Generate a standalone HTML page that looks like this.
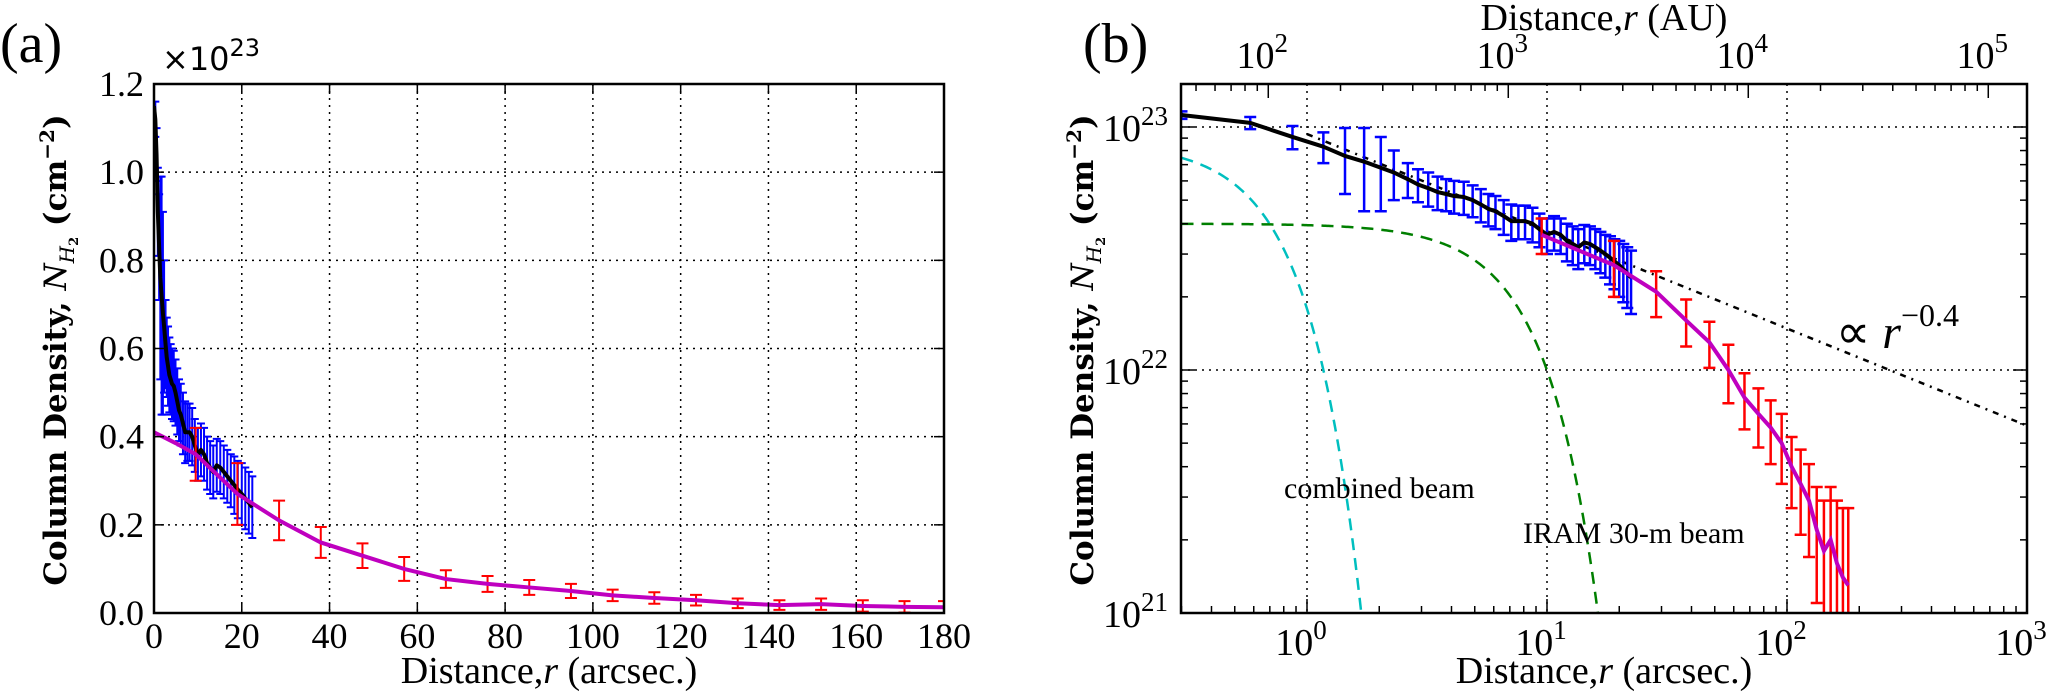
<!DOCTYPE html>
<html><head><meta charset="utf-8">
<style>
html,body{margin:0;padding:0;background:#fff;width:2050px;height:700px;overflow:hidden;position:relative;}
svg{display:block;}
text{font-family:"Liberation Serif","DejaVu Serif",serif;fill:#000;}
</style></head>
<body>
<svg id="fig" width="2050" height="700" viewBox="0 0 2050 700" xmlns="http://www.w3.org/2000/svg" style="position:absolute;left:0;top:0;overflow:hidden">
<defs>
<clipPath id="clipA"><rect x="154" y="84" width="790" height="529"/></clipPath>
<clipPath id="clipB"><rect x="1181" y="84" width="846" height="529"/></clipPath>
</defs>
<g id="panelA"></g>
<g id="panelB"></g>
</svg>
<script>
const obsR = [0.3,0.58,0.87,1.17,1.44,1.73,2.03,2.3,2.63,2.9,3.2,3.5,3.8,4.1,4.5,4.9,5.3,5.7,6.1,6.6,7.1,7.6,8.1,8.7,9.3,10,10.7,11.4,12.1,12.8,13.5,14.3,15.1,15.9,16.7,17.5,18.3,19.1,20,20.8,21.6,22.4];
const obsN = [1.12,1.04,0.91,0.83,0.76,0.72,0.68,0.65,0.61,0.58,0.56,0.54,0.53,0.52,0.515,0.50,0.48,0.46,0.45,0.43,0.41,0.41,0.41,0.40,0.38,0.36,0.37,0.36,0.34,0.33,0.32,0.335,0.33,0.32,0.31,0.30,0.29,0.28,0.27,0.26,0.25,0.24];
const obsErr = [0.04,0.06,0.10,0.12,0.23,0.27,0.23,0.15,0.10,0.09,0.09,0.085,0.08,0.08,0.08,0.075,0.075,0.07,0.07,0.07,0.07,0.065,0.065,0.065,0.06,0.06,0.06,0.06,0.06,0.06,0.06,0.06,0.06,0.06,0.06,0.06,0.065,0.065,0.07,0.07,0.07,0.07];
const modR = [0,5,9.5,19,28.5,38,47.5,57,66.5,76,85.5,95,104.5,114,123.5,133,142.5,152,161.5,171,180];
const modN = [0.41,0.385,0.36,0.27,0.21,0.16,0.13,0.10,0.077,0.066,0.058,0.05,0.04,0.034,0.029,0.022,0.018,0.020,0.016,0.014,0.013];
const modErr = [0,0,0.06,0.07,0.045,0.035,0.028,0.027,0.02,0.018,0.017,0.016,0.013,0.013,0.012,0.011,0.011,0.013,0.013,0.013,0.014];
const beamAmp = [0.86,0.40];
const beamSigma = [0.564,6.0];
const powerNorm = [0.059];
const powerIdx = [-0.4];
const linXTicks = [0,20,40,60,80,100,120,140,160,180];
const linYTicks = [0,0.2,0.4,0.6,0.8,1.0,1.2];
const logXExp = [0,1,2,3];
const logYExp = [21,22,23];
const auExp = [2,3,4,5];
const auPerArcsec = 145;

const NS="http://www.w3.org/2000/svg";
function mk(parent,tag,attrs,txt){const e=document.createElementNS(NS,tag);for(const k in attrs)e.setAttribute(k,attrs[k]);if(txt!==undefined)e.textContent=txt;parent.appendChild(e);return e;}

const A={x0:154,x1:944,y0:84,y1:613};
const xL=r=>A.x0+r/180*(A.x1-A.x0);
const yL=n=>A.y1-n/1.2*(A.y1-A.y0);
const B={x0:1181,x1:2027,y0:84,y1:613};
const xR=r=>1307+240*Math.log10(r);
const yR=n=>127-243*Math.log10(n);

const pa=document.getElementById('panelA');
const gA=mk(pa,'g',{});


linXTicks.forEach(t=>{if(t>0&&t<180)mk(gA,'line',{x1:xL(t),x2:xL(t),y1:A.y0,y2:A.y1,stroke:'#000','stroke-width':1.5,'stroke-dasharray':'2,5'});});
linYTicks.forEach(t=>{if(t>0&&t<1.2)mk(gA,'line',{x1:A.x0,x2:A.x1,y1:yL(t),y2:yL(t),stroke:'#000','stroke-width':1.5,'stroke-dasharray':'2,5'});});
const dA=mk(pa,'g',{'clip-path':'url(#clipA)'});
obsR.forEach((r,i)=>{
  const b=mk(dA,'path',{d:`M${xL(r)},${yL(obsN[i]+obsErr[i])}V${yL(obsN[i]-obsErr[i])}M${xL(r)-4},${yL(obsN[i]+obsErr[i])}h8M${xL(r)-4},${yL(obsN[i]-obsErr[i])}h8`,stroke:'#0000ff','stroke-width':2,fill:'none'});
  
  
});
let pth='';obsR.forEach((r,i)=>{pth+=(i?'L':'M')+xL(r)+','+yL(obsN[i]);});
const ol=mk(dA,'path',{d:'M'+xL(0)+','+yL(1.15)+'L'+pth.slice(1),stroke:'#000','stroke-width':4,fill:'none','stroke-linejoin':'round'});


modR.forEach((r,i)=>{if(!modErr[i])return;
  const b=mk(dA,'path',{d:`M${xL(r)},${yL(modN[i]+modErr[i])}V${yL(Math.max(0,modN[i]-modErr[i]))}M${xL(r)-6},${yL(modN[i]+modErr[i])}h12M${xL(r)-6},${yL(Math.max(0,modN[i]-modErr[i]))}h12`,stroke:'#ff0000','stroke-width':2,fill:'none'});
  
  
});
pth='';modR.forEach((r,i)=>{pth+=(i?'L':'M')+xL(r)+','+yL(modN[i]);});
const ml=mk(dA,'path',{d:pth,stroke:'#bf00bf','stroke-width':4,fill:'none'});


const fa=mk(pa,'rect',{x:A.x0,y:A.y0,width:A.x1-A.x0,height:A.y1-A.y0,fill:'none',stroke:'#000','stroke-width':2.5});


linXTicks.forEach(t=>{
  mk(pa,'line',{x1:xL(t),x2:xL(t),y1:A.y1,y2:A.y1-10,stroke:'#000','stroke-width':1.5});
  mk(pa,'line',{x1:xL(t),x2:xL(t),y1:A.y0,y2:A.y0+10,stroke:'#000','stroke-width':1.5});
  const l=mk(pa,'text',{x:xL(t),y:648,'font-size':36,'text-anchor':'middle'},String(t));
  
  
});
linYTicks.forEach(t=>{
  mk(pa,'line',{x1:A.x0,x2:A.x0+10,y1:yL(t),y2:yL(t),stroke:'#000','stroke-width':1.5});
  mk(pa,'line',{x1:A.x1,x2:A.x1-10,y1:yL(t),y2:yL(t),stroke:'#000','stroke-width':1.5});
  const l=mk(pa,'text',{x:144,y:yL(t)+12,'font-size':36,'text-anchor':'end'},t.toFixed(1));
  
  
});
const pb=document.getElementById('panelB');
const gB=mk(pb,'g',{});


logXExp.forEach(e=>{const x=xR(Math.pow(10,e));if(x<B.x1-1)mk(gB,'line',{x1:x,x2:x,y1:B.y0,y2:B.y1,stroke:'#000','stroke-width':1.5,'stroke-dasharray':'2,5'});});
logYExp.forEach(e=>{const y=yR(Math.pow(10,e-23));if(y<B.y1-1)mk(gB,'line',{x1:B.x0,x2:B.x1,y1:y,y2:y,stroke:'#000','stroke-width':1.5,'stroke-dasharray':'2,5'});});
const dB=mk(pb,'g',{'clip-path':'url(#clipB)'});
['#00bfbf','#007f00'].forEach((c,k)=>{
  let d='';for(let i=0;i<=300;i++){const r=0.3*Math.pow(10,i/300*2);const n=beamAmp[k]*Math.exp(-r*r/(2*beamSigma[k]*beamSigma[k]));d+=(i?'L':'M')+xR(r)+','+yR(n);if(n<0.009)break;}
  const b=mk(dB,'path',{d:d,stroke:c,'stroke-width':2.5,fill:'none','stroke-dasharray':'12,8'});
  
  
});
{let d='';for(let i=0;i<=30;i++){const r=Math.pow(10,i/10);d+=(i?'L':'M')+xR(r)+','+yR(powerNorm[0]*Math.pow(r/1000,powerIdx[0]));}
 const p=mk(dB,'path',{d:d,stroke:'#000','stroke-width':2.5,fill:'none','stroke-dasharray':'6,6,2,6'});
 
 }
obsR.forEach((r,i)=>{
  const t=yR(obsN[i]+obsErr[i]),bt=yR(obsN[i]-obsErr[i]),x=xR(r);
  const b=mk(dB,'path',{d:`M${x},${t}V${bt}M${x-6},${t}h12M${x-6},${bt}h12`,stroke:'#0000ff','stroke-width':2.5,fill:'none'});
  
  
});
pth='';obsR.forEach((r,i)=>{pth+=(i?'L':'M')+xR(r)+','+yR(obsN[i]);});
const ol2=mk(dB,'path',{d:pth,stroke:'#000','stroke-width':4,fill:'none','stroke-linejoin':'round'});


modR.forEach((r,i)=>{if(!modErr[i])return;
  const lo=modN[i]-modErr[i];const t=yR(modN[i]+modErr[i]),bt=Math.min(620,lo>0?yR(lo):620),x=xR(r);
  const b=mk(dB,'path',{d:`M${x},${t}V${bt}M${x-6},${t}h12M${x-6},${bt}h12`,stroke:'#ff0000','stroke-width':2.5,fill:'none'});
  
  
});
pth='';let st=0;modR.forEach((r,i)=>{if(r<9)return;pth+=(st++?'L':'M')+xR(r)+','+yR(modN[i]);});
const ml2=mk(dB,'path',{d:pth,stroke:'#bf00bf','stroke-width':4,fill:'none'});


const fb=mk(pb,'rect',{x:B.x0,y:B.y0,width:B.x1-B.x0,height:B.y1-B.y0,fill:'none',stroke:'#000','stroke-width':2.5});


for(let e=-1;e<3;e++)for(let m=1;m<10;m++){const x=xR(m*Math.pow(10,e));if(x<B.x0||x>B.x1)continue;const L=m==1?14:7;mk(pb,'line',{x1:x,x2:x,y1:B.y1,y2:B.y1-L,stroke:'#000','stroke-width':1.5});}
for(let e=1;e<6;e++)for(let m=1;m<10;m++){const x=xR(m*Math.pow(10,e)/auPerArcsec);if(x<B.x0||x>B.x1)continue;const L=m==1?14:7;mk(pb,'line',{x1:x,x2:x,y1:B.y0,y2:B.y0+L,stroke:'#000','stroke-width':1.5});}
for(let e=-2;e<1;e++)for(let m=1;m<10;m++){const y=yR(m*Math.pow(10,e));if(y<B.y0||y>B.y1)continue;const L=m==1?14:7;mk(pb,'line',{x1:B.x0,x2:B.x0+L,y1:y,y2:y,stroke:'#000','stroke-width':1.5});mk(pb,'line',{x1:B.x1,x2:B.x1-L,y1:y,y2:y,stroke:'#000','stroke-width':1.5});}
logXExp.forEach(e=>{const t=mk(pb,'text',{x:xR(Math.pow(10,e))-6,y:655,'font-size':38,'text-anchor':'middle'});
  
  
  t.innerHTML='10<tspan dy="-16" font-size="27">'+e+'</tspan>';});
auExp.forEach(e=>{const t=mk(pb,'text',{x:xR(Math.pow(10,e)/auPerArcsec)-6,y:68,'font-size':38,'text-anchor':'middle'});
  
  
  t.innerHTML='10<tspan dy="-16" font-size="27">'+e+'</tspan>';});
logYExp.forEach(e=>{const t=mk(pb,'text',{x:1168,y:yR(Math.pow(10,e-23))+14,'font-size':38,'text-anchor':'end'});
  
  
  t.innerHTML='10<tspan dy="-16" font-size="27">'+e+'</tspan>';});
</script>
<svg style="position:absolute;left:0;top:0;overflow:hidden" width="2050" height="700">
<text x="0" y="62" font-size="56" style="font-family:'Liberation Serif',serif">(a)</text>
<text x="1083" y="62" font-size="56" style="font-family:'Liberation Serif',serif">(b)</text>
<text x="162" y="70" font-size="32" style="font-family:'DejaVu Sans',sans-serif">×10<tspan dy="-14" font-size="24">23</tspan></text>
<text x="549" y="683" font-size="38" text-anchor="middle" style="font-family:'Liberation Serif',serif">Distance,<tspan font-style="italic">r</tspan> (arcsec.)</text>
<text x="1604" y="683" font-size="38" text-anchor="middle" style="font-family:'Liberation Serif',serif">Distance,<tspan font-style="italic">r</tspan> (arcsec.)</text>
<text x="1604" y="30" font-size="38" text-anchor="middle" style="font-family:'Liberation Serif',serif">Distance,<tspan font-style="italic">r</tspan> (AU)</text>
<text transform="translate(66,350) rotate(-90)" font-size="31" text-anchor="middle" style="font-family:'DejaVu Serif',serif;font-weight:bold">Column Density, <tspan font-style="italic" font-weight="normal">N</tspan><tspan font-style="italic" font-weight="normal" font-size="20" dy="8">H</tspan><tspan font-size="13" dy="4">2</tspan><tspan dy="-12"> (cm</tspan><tspan font-size="20" dy="-12">−2</tspan><tspan dy="12">)</tspan></text>
<text transform="translate(1093,350) rotate(-90)" font-size="31" text-anchor="middle" style="font-family:'DejaVu Serif',serif;font-weight:bold">Column Density, <tspan font-style="italic" font-weight="normal">N</tspan><tspan font-style="italic" font-weight="normal" font-size="20" dy="8">H</tspan><tspan font-size="13" dy="4">2</tspan><tspan dy="-12"> (cm</tspan><tspan font-size="20" dy="-12">−2</tspan><tspan dy="12">)</tspan></text>
<text x="1836" y="348" font-size="48" style="font-family:'Liberation Serif',serif">∝ <tspan font-style="italic">r</tspan><tspan font-size="32" dy="-22">−0.4</tspan></text>
<text x="1284" y="498" font-size="30" style="font-family:'Liberation Serif',serif">combined beam</text>
<text x="1523" y="543" font-size="30" style="font-family:'Liberation Serif',serif">IRAM 30-m beam</text>
</svg>
</body></html>
